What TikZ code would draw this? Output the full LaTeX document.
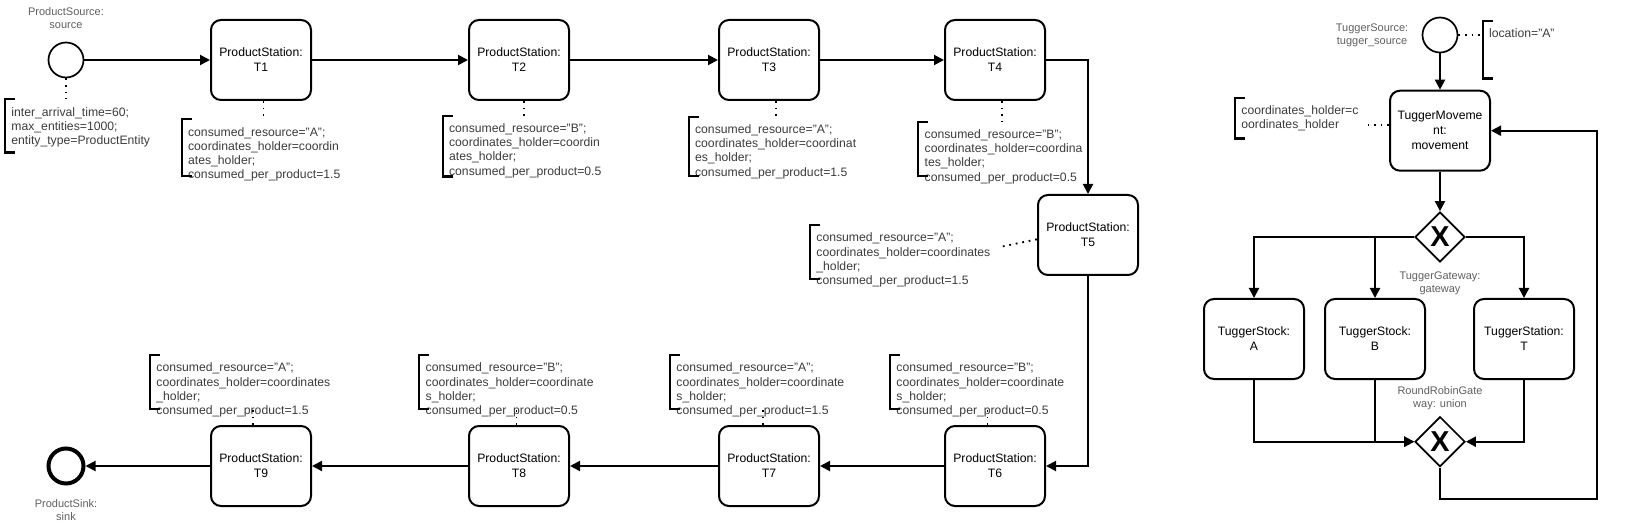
\documentclass[tikz,border=0pt]{standalone}
\usepackage{fontspec}
\setmainfont{Liberation Sans}
\usetikzlibrary{arrows.meta, positioning, shapes.geometric}
\definecolor{NOTEGRAY}{HTML}{3C3C3C}
\definecolor{LBLGRAY}{HTML}{606060}
\newcommand{\nodefont}{\fontsize{6.1pt}{7.5pt}\selectfont}
\newcommand{\notefont}{\fontsize{6.1pt}{7.1pt}\selectfont}
\newcommand{\lblfont}{\fontsize{5.5pt}{6.4pt}\selectfont}

\begin{document}
\begin{tikzpicture}[x=0.5pt, y=-0.5pt,
    station/.style={draw, line width=1pt, rounded corners=5pt, minimum width=50pt,
                    minimum height=40pt, align=center, font=\nodefont, inner sep=1pt},
    event/.style={circle, draw, line width=0.85pt, minimum size=17.5pt, inner sep=0pt},
    endevent/.style={event, line width=2pt},
    gate/.style={diamond, draw, line width=0.85pt, minimum size=25pt, inner sep=0pt,
                 font=\fontsize{14.4pt}{14.4pt}\selectfont\bfseries},
    lbl/.style={align=center, font=\lblfont, text=LBLGRAY, inner sep=0pt},
    note/.style={anchor=north west, align=left, font=\notefont, text=NOTEGRAY,
                 text width=90pt, inner xsep=3pt, inner ysep=0pt, text height=8.25pt},
    brace/.style={line width=1.1pt},
    arr/.style={-{Triangle[length=5pt, width=5pt]}, line width=1pt},
    assoc/.style={line width=0.9pt, dash pattern=on 0.9pt off 2.4pt}
  ]
  \useasboundingbox (0,0) rectangle (1628,529);

  \node[event] (src) at (66,60) {};
  \node[lbl, above=6.5pt of src] (srclbl) {ProductSource:\\source};
  \foreach \n/\x in {1/261, 2/519, 3/769, 4/995}
    \node[station] (t\n) at (\x,60) {ProductStation:\\T\n};
  \node[station] (t5) at (1088,235) {ProductStation:\\T5};
  \foreach \n/\x in {6/995, 7/769, 8/519, 9/261}
    \node[station] (t\n) at (\x,466) {ProductStation:\\T\n};
  \node[endevent] (sink) at (66,466) {};
  \node[lbl, below=7pt of sink] (sinklbl) {ProductSink:\\sink};

  \node[note, text depth=17.95pt] (a0) at (5,99.3)
    {inter\_arrival\_time=60;\\max\_entities=1000;\\entity\_type=ProductEntity};
  \node[note, text depth=19.6pt] (a1) at (181.7,119.3)
    {consumed\_resource="A";\\coordinates\_holder=coordin\\ates\_holder;\\consumed\_per\_product=1.5};
  \node[note, text depth=21.75pt] (a2) at (442.7,115.7)
    {consumed\_resource="B";\\coordinates\_holder=coordin\\ates\_holder;\\consumed\_per\_product=0.5};
  \node[note, text depth=20.9pt] (a3) at (688.7,116.7)
    {consumed\_resource="A";\\coordinates\_holder=coordinat\\es\_holder;\\consumed\_per\_product=1.5};
  \node[note, text depth=18.4pt] (a4) at (918.3,121.7)
    {consumed\_resource="B";\\coordinates\_holder=coordina\\tes\_holder;\\consumed\_per\_product=0.5};
  \node[note, text depth=18.25pt] (a5) at (810,225)
    {consumed\_resource="A";\\coordinates\_holder=coordinates\\\_holder;\\consumed\_per\_product=1.5};
  \node[note, text depth=18.4pt] (a6) at (890,355)
    {consumed\_resource="B";\\coordinates\_holder=coordinate\\s\_holder;\\consumed\_per\_product=0.5};
  \node[note, text depth=18.4pt] (a7) at (670,355)
    {consumed\_resource="A";\\coordinates\_holder=coordinate\\s\_holder;\\consumed\_per\_product=1.5};
  \node[note, text depth=18.4pt] (a8) at (419.3,355)
    {consumed\_resource="B";\\coordinates\_holder=coordinate\\s\_holder;\\consumed\_per\_product=0.5};
  \node[note, text depth=18.4pt] (a9) at (150,355)
    {consumed\_resource="A";\\coordinates\_holder=coordinates\\\_holder;\\consumed\_per\_product=1.5};

  \draw[arr] (src) -- (t1);
  \foreach \a/\b in {t1/t2, t2/t3, t3/t4, t6/t7, t7/t8, t8/t9, t9/sink}
    \draw[arr] (\a) -- (\b);
  \draw[arr] (t4.east) -| (t5.north);
  \draw[arr] (t5.south) |- (t6.east);

  \draw[assoc] (src.south) -- (src.south |- a0.north);
  \foreach \s/\a/\d in {t1/a1/1.2, t2/a2/2.5, t3/a3/3.5, t4/a4/3.3}
    \draw[assoc] ([xshift=\d*1pt]\s.south) -- ([xshift=\d*1pt]\s.south |- \a.north);
  \foreach \s/\a/\d in {t6/a6/-3.8, t7/a7/-3, t8/a8/-1.3, t9/a9/-4}
    \draw[assoc] ([xshift=\d*1pt]\s.north) -- ([xshift=\d*1pt]\s.north |- \a.south);
  \draw[assoc] ([yshift=2.75pt]a5.east) -- ([yshift=-2.15pt]t5.west);

  \node[event] (tsrc) at (1440,35) {};
  \node[lbl, left=6.5pt of tsrc] (tsrclbl) {TuggerSource:\\tugger\_source};
  \node[station] (tmove) at (1440,130.7) {TuggerMoveme\\nt:\\movement};
  \node[gate] (gw) at (1440,237) {X};
  \node[lbl, below=4.5pt of gw] (gwlbl) {TuggerGateway:\\gateway};
  \node[station] (stA) at (1254,339) {TuggerStock:\\A};
  \node[station] (stB) at (1375,339) {TuggerStock:\\B};
  \node[station] (stT) at (1524,339) {TuggerStation:\\T};
  \node[gate] (union) at (1440,441.7) {X};
  \node[lbl, above=3pt of union] (unionlbl) {RoundRobinGate\\way: union};
  \coordinate (loop) at (1596.7,499.3);

  \node[note, text width=60pt, text depth=11.75pt] (atm) at (1235,97.7)
    {coordinates\_holder=c\\oordinates\_holder};
  \node[note, text width=60pt, text depth=20.1pt] (aloc) at (1482.7,21) {location="A"};

  \draw[arr] (tsrc) -- (tmove);
  \draw[arr] (tmove) -- (gw);
  \draw[arr] (gw.west) -| (stA.north);
  \draw[arr] (gw.west) -| (stB.north);
  \draw[arr] (gw.east) -| (stT.north);
  \draw[arr] (stA.south) |- (union.west);
  \draw[arr] (stB.south) |- (union.west);
  \draw[arr] (stT.south) |- (union.east);
  \draw[arr] (union.south) |- (loop) |- (tmove.east);

  \draw[assoc] (tsrc.east) -- (tsrc.east -| aloc.west);
  \draw[assoc] ([yshift=2.7pt]tmove.west) -- ([yshift=2.7pt]tmove.west -| atm.east);

  \foreach \a in {a0, a1, a2, a3, a4, a5, a6, a7, a8, a9, atm, aloc}
    \draw[brace] ([xshift=5pt]\a.north west) -- (\a.north west) -- (\a.south west)
      -- ([xshift=5pt]\a.south west);
\end{tikzpicture}
\end{document}
